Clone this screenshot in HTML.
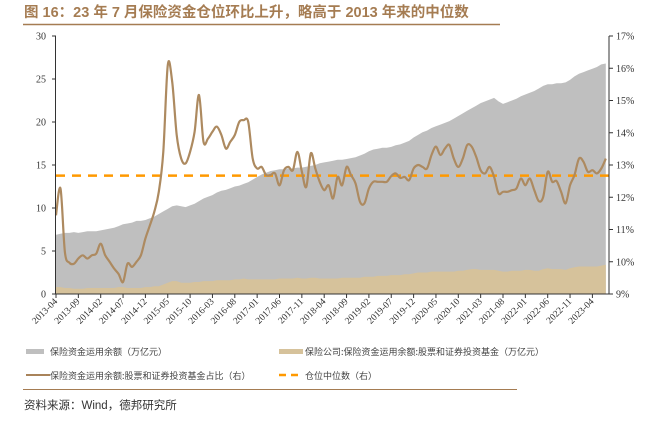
<!DOCTYPE html>
<html><head><meta charset="utf-8"><style>
body{margin:0;background:#fff;width:653px;height:422px;overflow:hidden;font-family:"Liberation Sans","Noto Sans CJK SC",sans-serif;}
svg text{font-family:"Liberation Serif","Noto Serif CJK SC",serif;}
</style></head><body>
<svg id="c" width="653" height="422" xmlns="http://www.w3.org/2000/svg">
<text x="24" y="17" font-size="14.5" font-weight="bold" fill="#a57c52" style="font-family:'Liberation Sans','Noto Sans CJK SC',sans-serif">图 16：23 年 7 月保险资金仓位环比上升，略高于 2013 年来的中位数</text>
<line x1="23" y1="24.5" x2="500" y2="24.5" stroke="#a57c52" stroke-width="1.5"/>
<g id="plot"></g>
<g id="legend" font-size="9" fill="#444">
<rect x="26" y="349" width="18" height="5" fill="#bfbfbf"/>
<text x="50" y="355" style="font-family:'Noto Sans CJK SC',sans-serif">保险资金运用余额（万亿元）</text>
<rect x="279" y="349" width="24" height="5" fill="#d6c29b"/>
<text x="305" y="355" style="font-family:'Noto Sans CJK SC',sans-serif">保险公司:保险资金运用余额:股票和证券投资基金（万亿元）</text>
<line x1="26" y1="375" x2="50" y2="375" stroke="#a9835a" stroke-width="2"/>
<text x="50" y="379" style="font-family:'Noto Sans CJK SC',sans-serif">保险资金运用余额:股票和证券投资基金占比（右）</text>
<line x1="279" y1="375" x2="303" y2="375" stroke="#ff9900" stroke-width="2.5" stroke-dasharray="7,5"/>
<text x="305" y="379" style="font-family:'Noto Sans CJK SC',sans-serif">仓位中位数（右）</text>
</g>
<line x1="23" y1="389.5" x2="517" y2="389.5" stroke="#a57c52" stroke-width="1"/>
<text x="24" y="409" font-size="11.5" fill="#333" style="font-family:'Liberation Sans','Noto Sans CJK SC',sans-serif">资料来源：Wind，德邦研究所</text>
</svg>
<script>
const ratio=[11.44,12.27,10.30,9.97,9.94,10.10,10.20,10.10,10.20,10.25,10.56,10.20,10.00,9.79,9.62,9.37,9.94,9.84,10.00,10.20,10.72,11.13,11.55,12.17,13.41,16.10,15.58,13.93,13.20,13.05,13.41,14.03,15.17,13.72,13.82,14.03,14.19,13.93,13.51,13.72,13.93,14.34,14.39,14.34,13.20,12.89,12.94,12.69,12.69,12.74,12.37,12.84,12.94,12.84,13.41,12.79,12.32,13.36,12.89,12.48,12.22,12.37,
11.96,12.63,12.37,12.94,12.69,12.43,11.86,11.81,12.27,12.48,12.48,12.48,12.48,12.66,12.74,12.60,12.63,12.53,12.89,13.00,12.94,12.89,13.31,13.57,13.31,13.51,13.62,13.20,12.94,13.20,13.62,13.57,13.25,12.84,12.74,12.94,12.63,12.12,12.17,12.17,12.22,12.27,12.58,12.37,12.58,12.22,11.88,12.01,12.79,12.48,12.50,12.17,11.81,12.37,12.69,13.20,13.10,12.79,12.84,12.74,12.89,13.20];
const total=[6.9,7.0,7.1,7.1,7.2,7.1,7.2,7.3,7.3,7.3,7.4,7.5,7.6,7.7,7.9,8.1,8.2,8.3,8.5,8.5,8.6,8.8,9.0,9.3,9.6,9.9,10.2,10.3,10.2,10.1,10.3,10.5,10.8,11.1,11.3,11.5,11.8,12.0,12.1,12.3,12.5,12.6,12.8,13.0,13.3,13.6,13.9,14.1,14.3,14.4,14.5,14.5,14.6,14.6,14.7,14.7,14.8,14.9,15.0,15.2,15.3,15.4,15.5,15.6,15.6,15.7,15.8,15.9,16.1,16.3,16.6,16.8,16.9,17.0,17.0,17.1,17.3,17.4,17.6,17.8,18.2,18.5,18.8,19.0,19.3,19.5,19.7,19.9,20.1,20.4,20.7,21.0,21.3,21.6,21.9,22.2,22.4,22.6,22.8,22.4,22.1,22.3,22.5,22.7,23.0,23.2,23.4,23.6,23.9,24.2,24.4,24.4,24.5,24.5,24.6,24.9,25.3,25.6,25.8,26.0,26.2,26.4,26.7,26.8];
const equity=[0.8,0.8,0.7,0.7,0.6,0.6,0.6,0.7,0.7,0.7,0.7,0.7,0.7,0.7,0.8,0.8,0.7,0.7,0.7,0.7,0.8,0.8,0.9,0.9,1.1,1.3,1.5,1.5,1.3,1.3,1.3,1.4,1.4,1.5,1.5,1.5,1.6,1.6,1.6,1.6,1.7,1.7,1.8,1.7,1.7,1.7,1.7,1.7,1.7,1.7,1.8,1.8,1.8,1.8,1.9,1.8,1.8,1.9,1.9,1.8,1.8,1.8,1.8,1.8,1.9,1.9,1.9,1.9,1.9,2.0,2.0,2.0,2.1,2.1,2.1,2.2,2.2,2.2,2.3,2.3,2.4,2.5,2.5,2.5,2.6,2.6,2.6,2.6,2.6,2.6,2.7,2.7,2.8,2.9,2.9,2.8,2.8,2.8,2.8,2.7,2.6,2.6,2.7,2.7,2.7,2.8,2.8,2.7,2.7,2.9,3.0,2.9,2.9,2.9,2.8,3.0,3.1,3.2,3.2,3.2,3.2,3.2,3.3,3.4];
const medianPct=12.67;
const leftTicks=[0,5,10,15,20,25,30];
const rightTicks=[9,10,11,12,13,14,15,16,17];
const startYear=2013,startMonth=4;
const NS='http://www.w3.org/2000/svg';
const X0=56,DX=4.47,YT=36,YB=294,XR=609;
const xs=i=>X0+DX*i;
const yl=v=>YB-(v/30)*(YB-YT);
const yr=p=>YB-((p-9)/8)*(YB-YT);
const g=document.getElementById('plot');
function mk(t,a){const e=document.createElementNS(NS,t);for(const k in a)e.setAttribute(k,a[k]);g.appendChild(e);return e;}
function area(arr){let d='M'+xs(0)+','+YB;arr.forEach((v,i)=>d+='L'+xs(i).toFixed(1)+','+yl(v).toFixed(1));d+='L'+xs(arr.length-1)+','+YB+'Z';return d;}
const a1=mk('path',{d:area(total),fill:'#bfbfbf'});


const a2=mk('path',{d:area(equity),fill:'#d6c29b'});


const med=mk('line',{x1:X0,x2:XR,y1:yr(medianPct),y2:yr(medianPct),stroke:'#ff9900','stroke-width':2.5,'stroke-dasharray':'9,7'});


const pts=ratio.map((v,i)=>[xs(i),yr(v)]);
let d='M'+pts[0][0].toFixed(1)+','+pts[0][1].toFixed(1);
for(let i=0;i<pts.length-1;i++){const p0=pts[Math.max(i-1,0)],p1=pts[i],p2=pts[i+1],p3=pts[Math.min(i+2,pts.length-1)];
const c1x=p1[0]+(p2[0]-p0[0])/6,c1y=p1[1]+(p2[1]-p0[1])/6,c2x=p2[0]-(p3[0]-p1[0])/6,c2y=p2[1]-(p3[1]-p1[1])/6;
d+=`C${c1x.toFixed(1)},${c1y.toFixed(1)} ${c2x.toFixed(1)},${c2y.toFixed(1)} ${p2[0].toFixed(1)},${p2[1].toFixed(1)}`;}
const ln=mk('path',{d:d,fill:'none',stroke:'#ad8a60','stroke-width':2.2,'stroke-linejoin':'round'});


const ax=mk('path',{d:`M${X0-0.5},${YT}V${YB}H${XR}M${XR},${YT}V${YB}`,stroke:'#333',fill:'none','stroke-width':1});


leftTicks.forEach(v=>{const y=yl(v);mk('line',{x1:X0-4,x2:X0,y1:y,y2:y,stroke:'#333'});
const t=mk('text',{x:X0-10,y:y+3.5,'font-size':10,'text-anchor':'end',fill:'#333'});t.textContent=v;

});
rightTicks.forEach(v=>{const y=yr(v);mk('line',{x1:XR,x2:XR+4,y1:y,y2:y,stroke:'#333'});
const t=mk('text',{x:XR+7,y:y+3.5,'font-size':10,fill:'#333'});t.textContent=v+'%';

});
for(let i=0;i<ratio.length;i+=5){const x=xs(i);mk('line',{x1:x,x2:x,y1:YB,y2:YB+4,stroke:'#333'});
const m=startMonth-1+i,yy=startYear+Math.floor(m/12),mm=m%12+1;
const t=mk('text',{x:x+2,y:YB+8,'font-size':9.5,'text-anchor':'end',fill:'#333',transform:`rotate(-45 ${x+2} ${YB+8})`});
t.textContent=yy+'-'+String(mm).padStart(2,'0');

}
</script>
</body></html>
